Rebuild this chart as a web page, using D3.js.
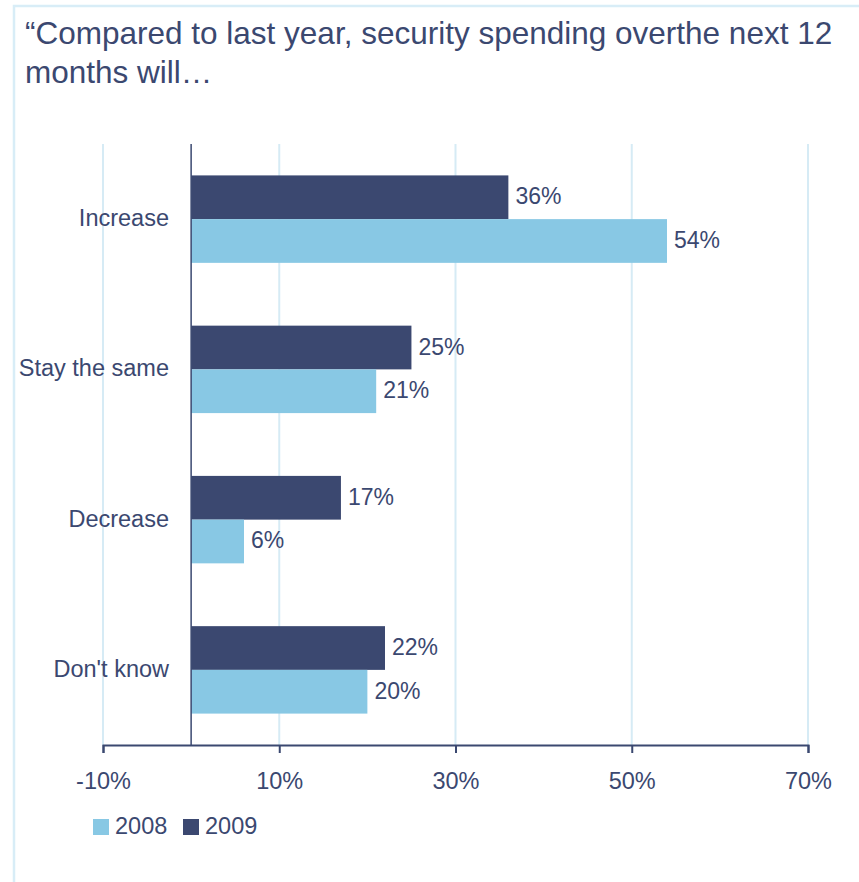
<!DOCTYPE html>
<html lang="en">
<head>
	<meta charset="UTF-8">
	<title>security spending</title>
	<script src="https://d3js.org/d3.v7.min.js"></script>
	<style>
		body { margin: 0; background: #fff; }
		text { font-family: "Liberation Sans", Arial, sans-serif; fill: #3b4870; }
	</style>
</head>
<body>
<svg id="chart" width="859" height="882"></svg>
<script>
	// data
	var categories = ["Increase", "Stay the same", "Decrease", "Don't know"];
	var series = ["2009", "2008"];
	var values2009 = [36, 25, 17, 22];
	var values2008 = [54, 21, 6, 20];
	var tickValues = [-10, 10, 30, 50, 70];
	var titleLines = ["\u201cCompared to last year, security spending overthe next 12", "months will\u2026"];

	var dark = "#3b4870", light = "#88c8e4", grid = "#d6ebf5";

	var svg = d3.select("#chart");

	// light frame round the slide
	svg.append("path")
		.attr("d", "M14,882V6H859")
		.attr("fill", "none")
		.attr("stroke", "#d8edf7")
		.attr("stroke-width", 2.5);

	svg.selectAll(".title")
		.data(titleLines)
		.enter()
		.append("text")
		.attr("class", "title")
		.attr("x", 25)
		.attr("y", function(d, i){ return 44 + i * 39; })
		.style("font-size", "31.5px")
		.text(function(d){ return d; });

	var x = d3.scaleLinear().domain([-10, 70]).range([103, 808]);
	var y = d3.scaleBand().domain(categories).range([144, 745])
		.paddingInner(0.418).paddingOuter(0.209);
	var ys = d3.scaleBand().domain(series).range([0, y.bandwidth()]);

	// gridlines
	svg.selectAll(".grid")
		.data(tickValues)
		.enter()
		.append("line")
		.attr("x1", function(d){ return x(d); })
		.attr("x2", function(d){ return x(d); })
		.attr("y1", 144)
		.attr("y2", 745)
		.attr("stroke", grid)
		.attr("stroke-width", 2);

	var rows = [];
	categories.forEach(function(c, i){
		rows.push({cat: c, s: "2009", v: values2009[i]});
		rows.push({cat: c, s: "2008", v: values2008[i]});
	});

	svg.selectAll(".bar")
		.data(rows)
		.enter()
		.append("rect")
		.attr("x", x(0))
		.attr("y", function(d){ return y(d.cat) + ys(d.s); })
		.attr("width", function(d){ return x(d.v) - x(0); })
		.attr("height", ys.bandwidth())
		.attr("fill", function(d){ return d.s == "2009" ? dark : light; });

	svg.selectAll(".val")
		.data(rows)
		.enter()
		.append("text")
		.attr("x", function(d){ return x(d.v) + 7; })
		.attr("y", function(d){ return y(d.cat) + ys(d.s) + ys.bandwidth() / 2 + 7; })
		.style("font-size", "23px")
		.text(function(d){ return d.v + "%"; });

	svg.selectAll(".cat")
		.data(categories)
		.enter()
		.append("text")
		.attr("x", 169)
		.attr("y", function(d){ return y(d) + y.bandwidth() / 2 + 7; })
		.attr("text-anchor", "end")
		.style("font-size", "23.5px")
		.text(function(d){ return d; });

	// zero line
	svg.append("line")
		.attr("x1", x(0)).attr("x2", x(0))
		.attr("y1", 144).attr("y2", 745)
		.attr("stroke", dark)
		.attr("stroke-width", 1.5);

	var axis = svg.append("g")
		.attr("transform", "translate(0,745)")
		.call(d3.axisBottom(x).tickValues(tickValues).tickSize(8)
			.tickFormat(function(d){ return d + "%"; }));
	axis.select(".domain").attr("stroke", dark).attr("stroke-width", 2);
	axis.selectAll(".tick line").attr("stroke", dark).attr("stroke-width", 2);
	axis.selectAll(".tick text")
		.attr("y", 44).attr("dy", null)
		.style("font-size", "23.5px")
		.style("font-family", "Liberation Sans, Arial, sans-serif")
		.attr("fill", dark);

	// legend
	var legend = svg.selectAll(".leg")
		.data(["2008", "2009"])
		.enter()
		.append("g")
		.attr("transform", function(d, i){ return "translate(" + (93 + i * 90) + ",819)"; });
	legend.append("rect")
		.attr("width", 16).attr("height", 16)
		.attr("fill", function(d){ return d == "2008" ? light : dark; });
	legend.append("text")
		.attr("x", 22).attr("y", 15)
		.style("font-size", "23.5px")
		.text(function(d){ return d; });
</script>
</body>
</html>
